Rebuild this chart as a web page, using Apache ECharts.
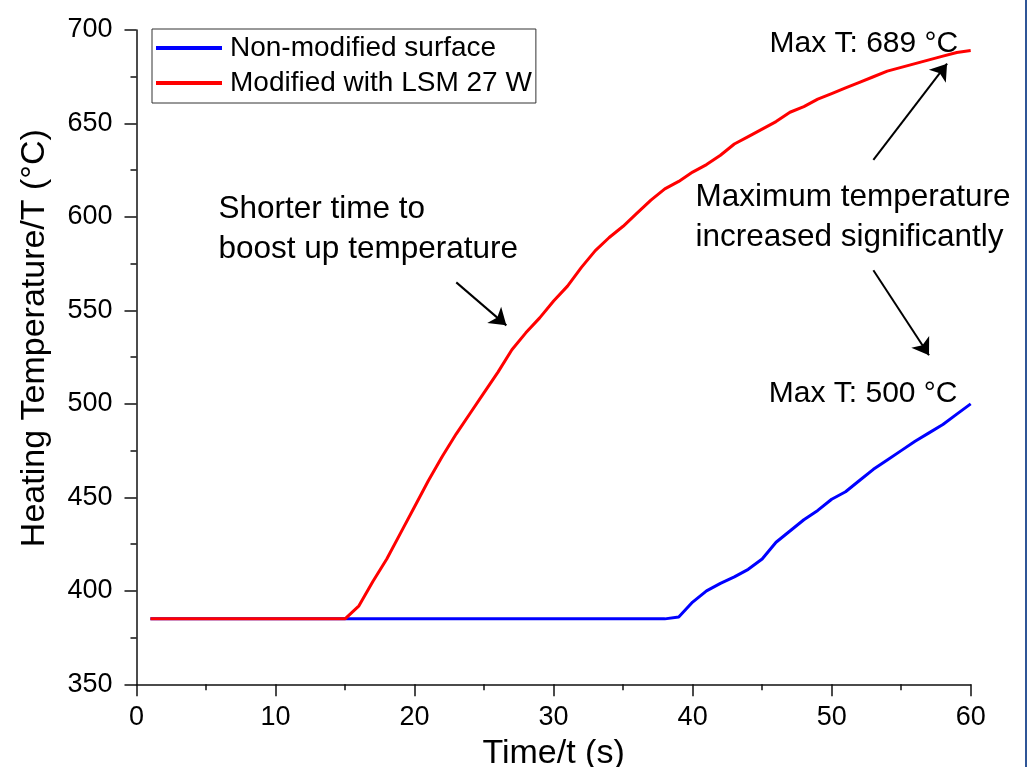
<!DOCTYPE html>
<html>
<head>
<meta charset="utf-8">
<script src="https://cdn.jsdelivr.net/npm/echarts/dist/echarts.min.js"></script>
<style>
  html, body { margin: 0; padding: 0; background: #fff; }
  #chart { width: 1036px; height: 767px; }
</style>
</head>
<body>
<div id="chart"></div>
<script>
// time in seconds
const times = [1, 2, 3, 4, 5, 6, 7, 8, 9, 10, 11, 12, 13, 14, 15, 16, 17, 18, 19, 20,
  21, 22, 23, 24, 25, 26, 27, 28, 29, 30, 31, 32, 33, 34, 35, 36, 37, 38, 39, 40,
  41, 42, 43, 44, 45, 46, 47, 48, 49, 50, 51, 52, 53, 54, 55, 56, 57, 58, 59, 60];

const nonModified = [385, 385, 385, 385, 385, 385, 385, 385, 385, 385, 385, 385, 385, 385, 385, 385, 385, 385, 385, 385,
  385, 385, 385, 385, 385, 385, 385, 385, 385, 385, 385, 385, 385, 385, 385, 385, 385, 385, 386, 394,
  400, 404, 407.5, 411.5, 417, 426, 432, 438, 443, 449, 453, 459, 465, 470, 475, 480, 484.5, 489, 494.5, 500];

const modifiedLsm = [385, 385, 385, 385, 385, 385, 385, 385, 385, 385, 385, 385, 385, 385, 385, 392, 405, 417, 431, 445,
  459, 472, 484, 495, 506, 517, 529, 538, 546, 555, 563, 573, 582, 589, 595, 602, 609, 615, 619, 624,
  628, 633, 639, 643, 647, 651, 656, 659, 663, 666, 669, 672, 675, 678, 680, 682, 684, 686, 688, 689];

const seriesNames = ['Non-modified surface', 'Modified with LSM 27 W'];

// arrows: [from, to] in data units
const arrows = [
  [[23.0, 565], [26.6, 542]],
  [[53.0, 630.5], [58.3, 682]],
  [[53.0, 571.5], [57.0, 526]]
];

// text notes anchored in data units
const notes = [
  { text: 'Shorter time to\nboost up temperature', at: [5.9, 593.5], align: 'left', size: 31.5 },
  { text: 'Maximum temperature\nincreased significantly', at: [40.2, 600], align: 'left', size: 31.5 },
  { text: 'Max T: 689 °C', at: [59.1, 692.5], align: 'right', size: 30 },
  { text: 'Max T: 500 °C', at: [59.05, 505.3], align: 'right', size: 30 }
];

const font = 'Liberation Sans, Arial, sans-serif';
const pair = (xs, ys) => xs.map((x, i) => [x, ys[i]]);

const axisCommon = {
  axisLine: { show: true, onZero: false, lineStyle: { color: '#111', width: 1.5 } },
  axisTick: { show: true, inside: false, length: 12, lineStyle: { color: '#111', width: 1.5 } },
  minorTick: { show: true, splitNumber: 2, length: 6, lineStyle: { color: '#111', width: 1.5 } },
  splitLine: { show: false }
};

const chart = echarts.init(document.getElementById('chart'));
chart.setOption({
  animation: false,
  backgroundColor: '#fff',
  grid: { left: 136.5, right: 65.3, top: 30, bottom: 82.7, containLabel: false, outerBoundsMode: 'none' },
  legend: {
    data: seriesNames,
    orient: 'vertical',
    left: 152, top: 29,
    padding: [4, 4, 5, 4],
    borderColor: '#333', borderWidth: 1,
    icon: 'rect', itemWidth: 66, itemHeight: 4, itemGap: 5,
    textStyle: { fontSize: 28, lineHeight: 30, color: '#000', fontFamily: font, padding: [0, 0, 0, 3] }
  },
  xAxis: Object.assign({}, axisCommon, {
    type: 'value', min: 0, max: 60, interval: 10,
    name: 'Time/t (s)', nameLocation: 'middle', nameGap: 46,
    nameTextStyle: { fontSize: 34, color: '#000', fontFamily: font },
    axisLabel: { fontSize: 27, color: '#000', fontFamily: font, margin: 20 }
  }),
  yAxis: Object.assign({}, axisCommon, {
    type: 'value', min: 350, max: 700, interval: 50,
    name: 'Heating Temperature/T (°C)', nameLocation: 'middle', nameGap: 85,
    nameTextStyle: { fontSize: 34, color: '#000', fontFamily: font, padding: [0, 0, 0, 38] },
    axisLabel: { fontSize: 27, color: '#000', fontFamily: font, margin: 24 }
  }),
  series: [
    {
      name: seriesNames[0], type: 'line', data: pair(times, nonModified),
      showSymbol: false, color: '#0000ff', lineStyle: { width: 3 }
    },
    {
      name: seriesNames[1], type: 'line', data: pair(times, modifiedLsm),
      showSymbol: false, color: '#ff0000', lineStyle: { width: 3 },
      markLine: {
        silent: true, animation: false,
        symbol: ['none', 'arrow'], symbolSize: 16,
        label: { show: false },
        lineStyle: { color: '#000', width: 2, type: 'solid' },
        data: arrows.map(a => [{ coord: a[0] }, { coord: a[1] }])
      }
    }
  ]
});

const graphics = notes.map(n => {
  const p = chart.convertToPixel({ gridIndex: 0 }, n.at);
  return {
    type: 'text', x: p[0], y: p[1], silent: true,
    style: {
      text: n.text, fill: '#000', font: n.size + 'px ' + font, lineHeight: 40,
      textAlign: n.align, textVerticalAlign: 'middle'
    }
  };
});
graphics.push({
  type: 'line', silent: true,
  shape: { x1: 1026, y1: 0, x2: 1026, y2: 767 },
  style: { stroke: '#2f5597', lineWidth: 2 }
});
chart.setOption({ graphic: graphics });
</script>
</body>
</html>
